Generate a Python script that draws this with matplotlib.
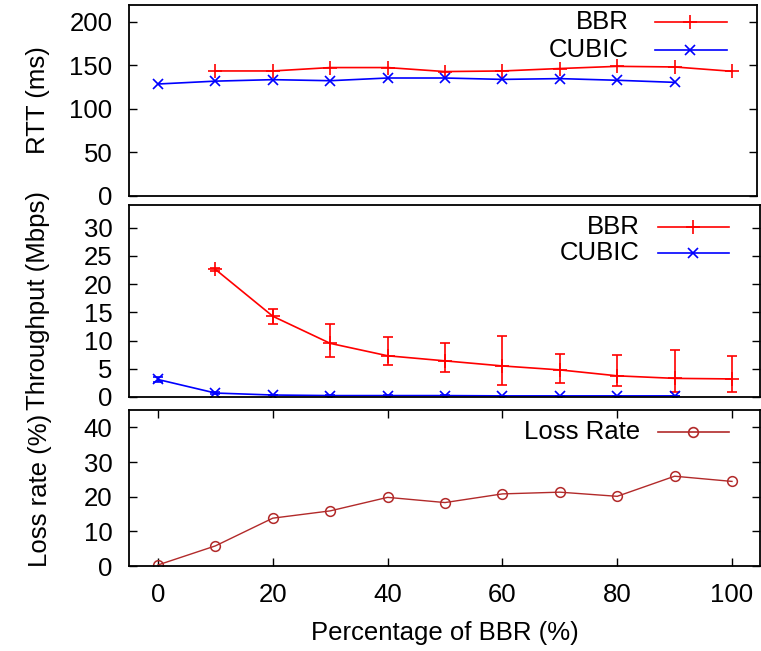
import numpy as np
import matplotlib
matplotlib.use("Agg")
from matplotlib import pyplot as plt

plt.rcParams['font.family'] = ['Liberation Sans', 'DejaVu Sans']
FS = 18.5

# data
pct = [0, 10, 20, 30, 40, 50, 60, 70, 80, 90, 100]

rtt_bbr_x = [10, 20, 30, 40, 50, 60, 70, 80, 90, 100]
rtt_bbr = [143.7, 143.7, 147.6, 147.6, 143.0, 143.7, 146.5, 149.0, 148.3, 143.3]
rtt_cubic_x = [0, 10, 20, 30, 40, 50, 60, 70, 80, 90]
rtt_cubic = [128.7, 132.0, 133.7, 132.5, 135.6, 135.6, 134.0, 134.9, 133.0, 130.6]

tput_bbr_x = [10, 20, 30, 40, 50, 60, 70, 80, 90, 100]
tput_bbr = [22.6, 14.3, 9.5, 7.3, 6.4, 5.5, 4.8, 3.75, 3.3, 3.2]
tput_bbr_lo = [22.4, 12.9, 7.1, 5.6, 4.5, 2.1, 2.4, 2.0, 0.9, 0.8]
tput_bbr_hi = [22.8, 15.6, 13.0, 10.7, 9.6, 10.8, 7.7, 7.4, 8.4, 7.3]
tput_cubic_x = [0, 10, 20, 30, 40, 50, 60, 70, 80, 90]
tput_cubic = [3.1, 0.7, 0.35, 0.25, 0.25, 0.25, 0.2, 0.2, 0.2, 0.2]
tput_cubic_lo = [2.7, 0.6, 0.3, 0.2, 0.2, 0.2, 0.15, 0.15, 0.15, 0.15]
tput_cubic_hi = [3.5, 0.8, 0.4, 0.3, 0.3, 0.3, 0.25, 0.25, 0.25, 0.25]

loss = [0.3, 5.8, 13.8, 15.9, 19.8, 18.3, 20.8, 21.3, 20.1, 25.9, 24.4]

RED = '#ff0000'
BLUE = '#0000ff'
BROWN = '#b22a2a'

W, H = 761, 651
fig = plt.figure(figsize=(W / 100, H / 100), dpi=100)


def px_axes(l, t, r, b):
    return fig.add_axes([l / W, 1 - b / H, (r - l) / W, (b - t) / H])


# x pixel mapping: 0 -> 158, 100 -> 732
def xlim_for(l, r):
    k = (732 - 158) / 100.0
    return ((l - 158) / k, (r - 158) / k)


ax1 = px_axes(129, 5, 757, 196)
ax2 = px_axes(129, 205, 760, 397)
ax3 = px_axes(129, 410, 760, 566)

for ax, (l, r) in zip([ax1, ax2, ax3], [(129, 757), (129, 760), (129, 760)]):
    ax.set_xlim(*xlim_for(l, r))
    for s in ax.spines.values():
        s.set_linewidth(1.3)
    ax.tick_params(axis='y', direction='in', length=6, width=1, labelsize=FS,
                   left=True, right=True, pad=12)
    ax.tick_params(axis='x', direction='in', length=6, width=1, labelsize=FS,
                   top=True, bottom=True, pad=12)
    ax.set_xticks([0, 20, 40, 60, 80, 100])

ax1.tick_params(axis='x', bottom=False, top=False, labelbottom=False)
ax2.tick_params(axis='x', bottom=False, top=False, labelbottom=False)

# RTT
ax1.plot(rtt_bbr_x, rtt_bbr, color=RED, lw=1.2, marker='+', ms=10, mew=1.2)
ax1.plot(rtt_cubic_x, rtt_cubic, color=BLUE, lw=1.2, marker='x', ms=7, mew=1.2)
ax1.set_ylim(0, 219.5)
ax1.set_yticks([0, 50, 100, 150, 200])

# Throughput
b = np.array(tput_bbr)
ax2.errorbar(tput_bbr_x, tput_bbr,
             yerr=[b - np.array(tput_bbr_lo), np.array(tput_bbr_hi) - b],
             color=RED, lw=1.2, marker='+', ms=10, mew=1.2, capsize=3.5,
             elinewidth=1.2, capthick=1.2)
c = np.array(tput_cubic)
ax2.errorbar(tput_cubic_x, tput_cubic,
             yerr=[c - np.array(tput_cubic_lo), np.array(tput_cubic_hi) - c],
             color=BLUE, lw=1.2, marker='x', ms=7, mew=1.2, capsize=3.5,
             elinewidth=1.2, capthick=1.2)
ax2.set_ylim(0, 34)
ax2.set_yticks([0, 5, 10, 15, 20, 25, 30])

# Loss
ax3.plot(pct, loss, color=BROWN, lw=1.0, marker='o', ms=7, mfc='none', mew=1.1)
ax3.set_ylim(0, 45)
ax3.set_yticks([0, 10, 20, 30, 40])


# gnuplot style keys: text right aligned, sample line on the right
def key(ax, rows, l, t, r, b, xt=640, x0=658, x1=729, xm=693):
    for label, y, color, m, ms in rows:
        yy = 1 - (y - t) / (b - t)
        ax.text((xt - l) / (r - l), yy, label, transform=ax.transAxes,
                ha='right', va='center', fontsize=FS)
        ax.plot([(x0 - l) / (r - l), (x1 - l) / (r - l)], [yy, yy],
                color=color, lw=1.2, transform=ax.transAxes, clip_on=False)
        ax.plot([(xm - l) / (r - l)], [yy], color=color, marker=m, ms=ms,
                mew=1.2, mfc='none', transform=ax.transAxes, clip_on=False)


key(ax1, [('BBR', 22, RED, '+', 10), ('CUBIC', 50, BLUE, 'x', 7)],
    129, 5, 757, 196, xt=629, x0=655, x1=727, xm=690)
key(ax2, [('BBR', 227, RED, '+', 10), ('CUBIC', 253, BLUE, 'x', 7)],
    129, 205, 760, 397)
key(ax3, [('Loss Rate', 432, BROWN, 'o', 7)], 129, 410, 760, 566)

fig.text(38 / W, 1 - 100 / H, 'RTT (ms)', rotation=90, ha='center', va='center', fontsize=FS)
fig.text(38 / W, 1 - 300 / H, 'Throughput (Mbps)', rotation=90, ha='center', va='center', fontsize=FS)
fig.text(40 / W, 1 - 490 / H, 'Loss rate (%)', rotation=90, ha='center', va='center', fontsize=FS)
fig.text(445 / W, 1 - 633 / H, 'Percentage of BBR (%)', ha='center', va='center', fontsize=FS)

fig.savefig('out.png', dpi=100)
